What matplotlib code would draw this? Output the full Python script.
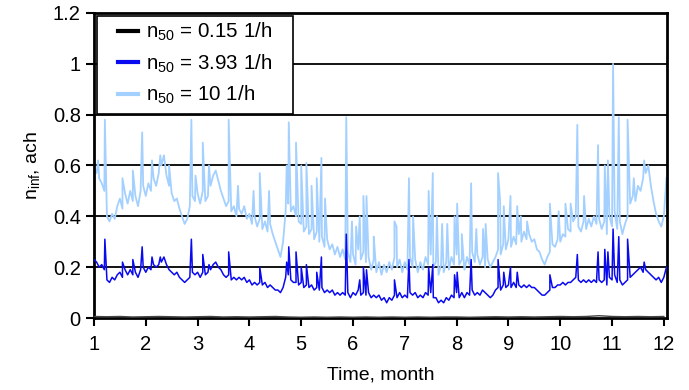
import numpy as np
import matplotlib
matplotlib.use('Agg')
import matplotlib.pyplot as plt
from matplotlib.patches import Rectangle

plt.rcParams['font.family'] = ['Liberation Sans', 'DejaVu Sans']
plt.rcParams['mathtext.fontset'] = 'custom'
plt.rcParams['mathtext.rm'] = 'Liberation Sans'
plt.rcParams['mathtext.it'] = 'Liberation Sans'

# months 1.00 .. 12.05 in 0.05 steps (base level)
months = np.round(np.arange(1.0, 12.0501, 0.05), 2)

n10_base = [
    0.59, 0.57, 0.55, 0.53, 0.50, 0.40, 0.38, 0.41, 0.39, 0.44, 0.47, 0.43, 0.49, 0.45, 0.50, 0.46, 0.48, 0.44, 0.50, 0.52,
    0.48, 0.53, 0.50, 0.55, 0.52, 0.57, 0.60, 0.64, 0.56, 0.52, 0.49, 0.46, 0.47, 0.43, 0.40, 0.37, 0.39, 0.44, 0.48, 0.46,
    0.49, 0.45, 0.50, 0.46, 0.48, 0.52, 0.56, 0.58, 0.54, 0.50, 0.47, 0.44, 0.46, 0.42, 0.44, 0.40, 0.43, 0.41, 0.44, 0.39,
    0.41, 0.37, 0.40, 0.36, 0.39, 0.35, 0.38, 0.34, 0.37, 0.33, 0.30, 0.27, 0.24, 0.30, 0.42, 0.45, 0.42, 0.44, 0.40, 0.38,
    0.37, 0.34, 0.36, 0.33, 0.35, 0.31, 0.34, 0.30, 0.32, 0.28, 0.31, 0.27, 0.29, 0.25, 0.28, 0.24, 0.27, 0.23, 0.26, 0.22,
    0.25, 0.21, 0.27, 0.23, 0.26, 0.22, 0.24, 0.19, 0.23, 0.18, 0.22, 0.17, 0.21, 0.18, 0.22, 0.19, 0.24, 0.20, 0.23, 0.18,
    0.22, 0.19, 0.24, 0.20, 0.23, 0.18, 0.22, 0.19, 0.24, 0.21, 0.25, 0.20, 0.22, 0.17, 0.21, 0.18, 0.22, 0.19, 0.24, 0.21,
    0.25, 0.21, 0.23, 0.19, 0.24, 0.21, 0.26, 0.22, 0.25, 0.21, 0.24, 0.20, 0.23, 0.20, 0.22, 0.24, 0.27, 0.25, 0.29, 0.27,
    0.31, 0.28, 0.32, 0.29, 0.33, 0.30, 0.34, 0.31, 0.33, 0.30, 0.31, 0.27, 0.26, 0.23, 0.21, 0.24, 0.26, 0.29, 0.28, 0.31,
    0.30, 0.33, 0.32, 0.35, 0.34, 0.38, 0.40, 0.36, 0.34, 0.38, 0.35, 0.39, 0.36, 0.40, 0.37, 0.39, 0.35, 0.38, 0.33, 0.40,
    0.36, 0.42, 0.35, 0.38, 0.33, 0.37, 0.40, 0.45, 0.48, 0.46, 0.52, 0.50, 0.55, 0.57, 0.60, 0.52, 0.46, 0.41, 0.38, 0.36,
    0.40, 0.55,
]
n10_spikes_m = [1.08, 1.21, 1.55, 1.75, 1.93, 2.12, 2.28, 2.45, 2.88, 2.96, 3.10, 3.22, 3.60, 3.78, 4.08, 4.20, 4.38,
                4.72, 4.76, 4.90, 5.00, 5.10, 5.20, 5.30, 5.39, 5.46, 5.87, 5.98, 6.06, 6.13, 6.20, 6.26, 6.40, 6.80,
                6.84, 7.08, 7.16, 7.46, 7.54, 7.62, 7.72, 7.82, 7.96, 8.01, 8.10, 8.28, 8.38, 8.51, 8.56, 8.80, 8.84,
                8.91, 9.04, 9.17, 9.24, 9.36, 9.80, 9.97, 10.10, 10.20, 10.33, 10.46, 10.73, 10.86, 10.92, 11.02,
                11.13, 11.30, 11.42, 11.62]
n10_spikes_v = [0.62, 0.78, 0.55, 0.58, 0.73, 0.62, 0.64, 0.60, 0.78, 0.56, 0.69, 0.60, 0.78, 0.52, 0.50, 0.57, 0.50,
                0.60, 0.77, 0.69, 0.60, 0.61, 0.52, 0.55, 0.63, 0.47, 0.79, 0.38, 0.36, 0.40, 0.48, 0.48, 0.32, 0.38,
                0.36, 0.55, 0.40, 0.50, 0.57, 0.40, 0.37, 0.37, 0.40, 0.45, 0.33, 0.53, 0.35, 0.35, 0.37, 0.57, 0.46,
                0.44, 0.48, 0.44, 0.40, 0.38, 0.45, 0.42, 0.45, 0.45, 0.76, 0.48, 0.68, 0.60, 0.62, 1.00,
                0.79, 0.78, 0.55, 0.62]

n393_base = [
    0.23, 0.22, 0.20, 0.21, 0.19, 0.15, 0.14, 0.16, 0.15, 0.17, 0.18, 0.16, 0.19, 0.17, 0.19, 0.17, 0.18, 0.16, 0.19, 0.20,
    0.18, 0.20, 0.19, 0.21, 0.20, 0.21, 0.22, 0.24, 0.21, 0.19, 0.18, 0.17, 0.18, 0.16, 0.15, 0.14, 0.15, 0.16, 0.18, 0.17,
    0.18, 0.16, 0.18, 0.17, 0.18, 0.19, 0.21, 0.22, 0.20, 0.19, 0.17, 0.16, 0.17, 0.15, 0.16, 0.15, 0.16, 0.15, 0.16, 0.14,
    0.15, 0.13, 0.14, 0.13, 0.14, 0.13, 0.14, 0.12, 0.13, 0.12, 0.11, 0.11, 0.10, 0.12, 0.16, 0.17, 0.15, 0.14, 0.14, 0.13,
    0.14, 0.12, 0.13, 0.12, 0.13, 0.11, 0.12, 0.11, 0.12, 0.10, 0.11, 0.10, 0.11, 0.09, 0.10, 0.09, 0.10, 0.09, 0.10, 0.08,
    0.10, 0.09, 0.11, 0.09, 0.10, 0.09, 0.10, 0.08, 0.09, 0.08, 0.09, 0.07, 0.08, 0.06, 0.08, 0.07, 0.09, 0.08, 0.10, 0.08,
    0.09, 0.08, 0.10, 0.09, 0.10, 0.08, 0.09, 0.08, 0.10, 0.09, 0.10, 0.08, 0.08, 0.06, 0.07, 0.06, 0.08, 0.07, 0.09, 0.08,
    0.10, 0.08, 0.10, 0.08, 0.10, 0.09, 0.11, 0.09, 0.10, 0.09, 0.11, 0.10, 0.09, 0.08, 0.09, 0.11, 0.12, 0.11, 0.13, 0.12,
    0.13, 0.12, 0.14, 0.12, 0.13, 0.12, 0.13, 0.12, 0.13, 0.12, 0.12, 0.11, 0.10, 0.09, 0.09, 0.10, 0.11, 0.12, 0.12, 0.13,
    0.13, 0.14, 0.13, 0.14, 0.14, 0.15, 0.16, 0.15, 0.14, 0.15, 0.14, 0.15, 0.14, 0.15, 0.14, 0.15, 0.14, 0.15, 0.13, 0.16,
    0.15, 0.17, 0.14, 0.15, 0.13, 0.14, 0.15, 0.16, 0.17, 0.18, 0.19, 0.20, 0.18, 0.19, 0.18, 0.17, 0.16, 0.15, 0.16, 0.14,
    0.16, 0.20,
]
n393_spikes_m = [1.21, 1.55, 1.75, 1.93, 2.12, 2.28, 2.88, 3.10, 3.22, 3.60, 4.20, 4.72, 4.76, 4.90, 5.00, 5.10, 5.30,
                 5.39, 5.87, 6.13, 6.20, 6.26, 6.80, 7.08, 7.46, 7.54, 7.96, 8.01, 8.28, 8.80, 8.91, 9.04, 9.17, 9.80,
                 10.33, 10.73, 10.86, 10.92, 11.02, 11.13, 11.30, 11.62]
n393_spikes_v = [0.31, 0.22, 0.23, 0.28, 0.24, 0.24, 0.31, 0.25, 0.21, 0.26, 0.20, 0.22, 0.28, 0.26, 0.20, 0.21, 0.18,
                 0.24, 0.33, 0.15, 0.20, 0.19, 0.15, 0.23, 0.20, 0.21, 0.17, 0.18, 0.23, 0.23, 0.18, 0.20, 0.18, 0.17,
                 0.25, 0.26, 0.27, 0.26, 0.35, 0.32, 0.31, 0.22]

# n50 = 0.15 1/h, quarter-month steps
n015_months = np.round(np.arange(1.0, 12.0501, 0.25), 2)
n015 = [0.006, 0.005, 0.006, 0.004, 0.005, 0.006, 0.005, 0.004, 0.005, 0.006, 0.004, 0.005, 0.004, 0.005, 0.006,
        0.004, 0.003, 0.004, 0.003, 0.004, 0.003, 0.004, 0.003, 0.004, 0.003, 0.004, 0.003, 0.004, 0.004, 0.003,
        0.004, 0.005, 0.004, 0.005, 0.004, 0.005, 0.006, 0.005, 0.006, 0.009, 0.006, 0.005, 0.006, 0.005, 0.006]


def merge(base_m, base_v, sp_m, sp_v):
    m = np.concatenate([base_m, sp_m])
    v = np.concatenate([base_v, sp_v])
    order = np.argsort(m, kind='stable')
    return m[order], v[order]


m10, v10 = merge(months, n10_base, n10_spikes_m, n10_spikes_v)
m393, v393 = merge(months, n393_base, n393_spikes_m, n393_spikes_v)

fig = plt.figure(figsize=(6.89, 3.9), dpi=100)
ax = fig.add_axes([0.1364, 0.1846, 0.968 - 0.1364, 0.9667 - 0.1846])

for yv in [0.2, 0.4, 0.6, 0.8, 1.0]:
    ax.axhline(yv, color='black', lw=1.3, zorder=1)

l10, = ax.plot(m10, v10, color='#a3d0ff', lw=1.3, zorder=2)
l393, = ax.plot(m393, v393, color='#0a0af0', lw=1.1, zorder=3)
l015, = ax.plot(n015_months, n015, color='#444444', lw=1.0, zorder=4)

ax.set_xlim(1, 12.06)
ax.set_ylim(0, 1.2)
ax.set_xticks(range(1, 13))
ax.set_yticks([0, 0.2, 0.4, 0.6, 0.8, 1.0, 1.2])
ax.set_yticklabels(['0', '0.2', '0.4', '0.6', '0.8', '1', '1.2'])
ax.tick_params(direction='out', length=6, width=1.5, labelsize=14.5, colors='black')
ax.tick_params(axis='x', pad=6)
for s in ax.spines.values():
    s.set_linewidth(2)
    s.set_color('black')

ax.set_xlabel('Time, month', fontsize=14, labelpad=9)
ax.set_ylabel(r'n$_{\mathrm{inf}}$, ach', fontsize=14, labelpad=8)

leg = ax.legend([l015, l393, l10],
                [r'n$_{50}$ = 0.15 1/h', r'n$_{50}$ = 3.93 1/h', r'n$_{50}$ = 10 1/h'],
                loc='upper left', bbox_to_anchor=(24 / ax.bbox.width, 1.0 - 8 / ax.bbox.height),
                fontsize=14.8, frameon=False,
                handlelength=0.95, handletextpad=0.4, borderpad=0.0, labelspacing=0.45,
                borderaxespad=0.0)
for h in leg.get_lines():
    h.set_linewidth(3)
leg.get_lines()[0].set_color('black')

# box around the legend, with the wider side padding of the original
fig.canvas.draw()
bb = leg.get_window_extent()
inv = ax.transAxes.inverted()
(x0, y0) = inv.transform((bb.x0 - 21, bb.y0 - 8))
(x1, y1) = inv.transform((bb.x1 + 21, ax.bbox.y1 - 3))
ax.add_patch(Rectangle((x0, y0), x1 - x0, y1 - y0, transform=ax.transAxes, facecolor='white',
                       edgecolor='black', lw=1.2, zorder=5))
leg.set_zorder(6)

fig.savefig('out.png', dpi=100)
